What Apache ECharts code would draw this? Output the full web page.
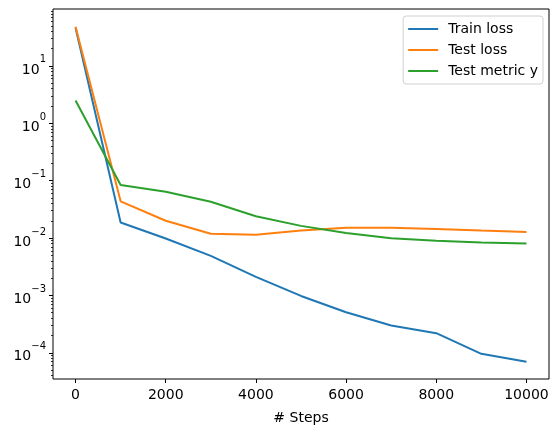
<!DOCTYPE html>
<html>
<head>
<meta charset="utf-8">
<script src="https://cdn.jsdelivr.net/npm/echarts@6/dist/echarts.min.js"></script>
<style>
  html, body { margin: 0; padding: 0; background: #fff; }
  #chart { width: 559px; height: 432px; }
</style>
</head>
<body>
<div id="chart"></div>
<script>
// steps on the x axis
var steps = [0, 1000, 2000, 3000, 4000, 5000, 6000, 7000, 8000, 9000, 10000];

// values (log y)
var trainLoss = [46, 0.0187, 0.0098, 0.0049, 0.0021, 0.00098, 0.00051, 0.0003, 0.00022, 0.000096, 0.00007];
var testLoss = [48, 0.0436, 0.020, 0.0119, 0.0114, 0.0136, 0.0151, 0.0151, 0.0144, 0.0135, 0.0128];
var testMetric = [2.5, 0.084, 0.064, 0.043, 0.024, 0.0163, 0.0122, 0.0099, 0.0090, 0.0084, 0.0080];

var xTicks = [0, 2000, 4000, 6000, 8000, 10000];
var yTicks = [1e-4, 1e-3, 1e-2, 1e-1, 1, 10];

var yMin = 3.5e-5, yMax = 98;

// minor ticks at 2..9 x 10^n like matplotlib (in log10 space for the helper axis)
var yMinor = [];
for (var d = -5; d <= 1; d++) {
	for (var k = 2; k <= 9; k++) {
		var v = k * Math.pow(10, d);
		if (v >= yMin && v <= yMax) yMinor.push(Math.log10(v));
	}
}

var font = 'DejaVu Sans';

function pairs(arr) {
	return steps.map(function(s, i) { return [s, arr[i]]; });
}

function powLabel(v) {
	var e = Math.round(Math.log10(v));
	var sup = (e < 0 ? '\u2212' : '') + Math.abs(e);
	return '{b|10}{s|' + sup + '}';
}

var chart = echarts.init(document.getElementById('chart'), null, { renderer: 'canvas' });

var option = {
	animation: false,
	backgroundColor: '#fff',
	grid: {
		left: 53, top: 9, right: 10, bottom: 53,
		show: true, borderColor: '#000', borderWidth: 1, backgroundColor: 'transparent'
	},
	legend: {
		orient: 'vertical',
		right: 16, top: 16,
		padding: [6, 5, 6, 5],
		itemGap: 7,
		itemWidth: 30, itemHeight: 2,
		icon: 'rect',
		borderColor: '#d0d0d0', borderWidth: 1, borderRadius: 3,
		backgroundColor: 'rgba(255,255,255,0.8)',
		textStyle: { fontFamily: font, fontSize: 14, color: '#000', padding: [0, 0, 0, 5] },
		data: ['Train loss', 'Test loss', 'Test metric y']
	},
	xAxis: {
		type: 'value',
		min: -500, max: 10500,
		name: '# Steps',
		nameLocation: 'middle',
		nameGap: 32,
		nameTextStyle: { fontFamily: font, fontSize: 14, color: '#000' },
		axisLine: { show: false, onZero: false },
		splitLine: { show: false },
		axisTick: { show: true, length: 4, lineStyle: { color: '#000', width: 1 }, customValues: xTicks },
		axisLabel: {
			fontFamily: font, fontSize: 14, color: '#000', margin: 9,
			customValues: xTicks,
			formatter: function(v) { return String(v); }
		}
	},
	yAxis: [{
		type: 'log',
		min: yMin, max: yMax,
		axisLine: { show: false, onZero: false },
		splitLine: { show: false },
		axisTick: { show: true, length: 4, lineStyle: { color: '#000', width: 1 }, customValues: yTicks },
		axisLabel: {
			margin: 7,
			customValues: yTicks,
			formatter: powLabel,
			rich: {
				b: { fontFamily: font, fontSize: 14, color: '#000', lineHeight: 22, verticalAlign: 'bottom' },
				s: { fontFamily: font, fontSize: 10, color: '#000', lineHeight: 22, verticalAlign: 'top' }
			}
		}
	}, {
		type: 'value',
		position: 'left',
		min: Math.log10(yMin), max: Math.log10(yMax),
		axisLine: { show: false, onZero: false },
		splitLine: { show: false },
		axisTick: { show: true, length: 2, lineStyle: { color: '#000', width: 0.8 }, customValues: yMinor },
		axisLabel: { show: false }
	}],
	series: [{
		name: 'Train loss', type: 'line', data: pairs(trainLoss),
		showSymbol: false, color: '#1f77b4', lineStyle: { width: 2 }
	}, {
		name: 'Test loss', type: 'line', data: pairs(testLoss),
		showSymbol: false, color: '#ff7f0e', lineStyle: { width: 2 }
	}, {
		name: 'Test metric y', type: 'line', data: pairs(testMetric),
		showSymbol: false, color: '#2ca02c', lineStyle: { width: 2 }
	}]
};

chart.setOption(option);
</script>
</body>
</html>
